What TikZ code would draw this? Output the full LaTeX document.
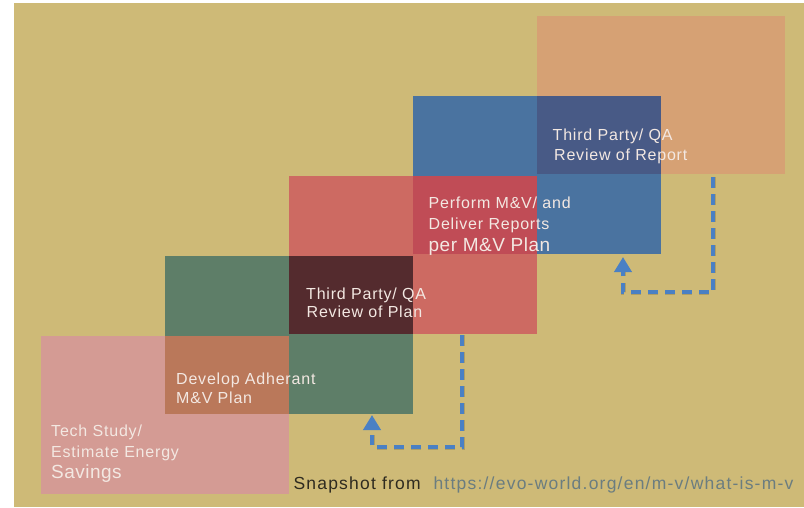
\documentclass[tikz,border=0pt]{standalone}
\usepackage{fontspec}
\setmainfont{Liberation Sans}
\newfontfamily\boxfont[LetterSpace=5]{Liberation Sans}
\newfontfamily\bigfont[LetterSpace=2.5]{Liberation Sans}
\newfontfamily\snapfont[LetterSpace=7]{Liberation Sans}
\usetikzlibrary{arrows.meta}
\definecolor{bgtan}{HTML}{CEBA77}
\definecolor{cpink}{HTML}{D49B94}
\definecolor{cpg}{HTML}{BA785A}
\definecolor{cgreen}{HTML}{5E7E68}
\definecolor{cgr}{HTML}{542B2E}
\definecolor{cred}{HTML}{CD6A62}
\definecolor{crb}{HTML}{C04C56}
\definecolor{cblue}{HTML}{4A73A0}
\definecolor{cbo}{HTML}{485A86}
\definecolor{corange}{HTML}{D6A174}
\definecolor{carrow}{HTML}{4A80C4}
\definecolor{ctext}{HTML}{F3E8E2}
\definecolor{csnap}{HTML}{2E2B20}
\definecolor{curl}{HTML}{6B7D80}
\tikzset{
  stepbox/.style={minimum width=248pt, minimum height=158pt, inner sep=0pt, draw=none},
  lbl/.style={anchor=base west, inner sep=0pt, text=ctext, font=\boxfont\fontsize{16}{19}\selectfont},
  biglbl/.style={anchor=base west, inner sep=0pt, text=ctext, font=\bigfont\fontsize{19}{22}\selectfont},
  loopline/.style={carrow, line width=4.3pt, dash pattern=on 10.5pt off 6.5pt, line join=miter,
     -{Triangle[width=17pt 0,length=15pt 0]}},
  loopshadow/.style={black, opacity=0.15, line width=5pt, dash pattern=on 10.5pt off 6.5pt}
}
\begin{document}
\begin{tikzpicture}[x=1pt,y=-1pt]
\useasboundingbox (0,0) rectangle (804,507);
\fill[white] (0,0) rectangle (804,507);
\fill[bgtan] (14,3) rectangle (804,507);
% boxes
\node[stepbox, fill=cpink]   (P) at (165,415) {};
\node[stepbox, fill=cgreen]  (G) at (289,335) {};
\node[stepbox, fill=cred]    (R) at (413,255) {};
\node[stepbox, fill=cblue]   (B) at (537,175) {};
\node[stepbox, fill=corange] (O) at (661,95) {};
% overlaps
\fill[cpg] (G.south west) rectangle (P.north east);
\fill[cgr] (R.south west) rectangle (G.north east);
\fill[crb] (B.south west) rectangle (R.north east);
\fill[cbo] (O.south west) rectangle (B.north east);
% labels
\node[lbl] (t1a) at (51,436) {Tech Study/};
\node[lbl] (t1b) at (51,457.3) {Estimate Energy};
\node[biglbl] (t1c) at (51,478) {Savings};
\node[lbl] (t2a) at (176,384) {Develop Adherant};
\node[lbl] (t2b) at (176,403.5) {M\&V Plan};
\node[lbl] (t3a) at (306,299.5) {Third Party/ QA};
\node[lbl] (t3b) at (306.5,317.5) {Review of Plan};
\node[lbl] (t4a) at (428.5,208.5) {Perform M\&V/ and};
\node[lbl] (t4b) at (428.5,229) {Deliver Reports};
\node[biglbl] (t4c) at (428.5,251.5) {per M\&V Plan};
\node[lbl] (t5a) at (552.5,140) {Third Party/ QA};
\node[lbl] (t5b) at (554,160) {Review of Report};
\node[anchor=base west, inner sep=0pt, text=csnap, font=\snapfont\fontsize{17.5}{20}\selectfont] (snap) at (293.3,489.3) {Snapshot from};
\node[anchor=base west, inner sep=0pt, text=curl, font=\snapfont\fontsize{17.5}{20}\selectfont] (url) at (433.3,489.3) {https://evo-world.org/en/m-v/what-is-m-v};
% loop arrows
\coordinate (a1s) at (462,335);
\coordinate (a1c) at (462,447);
\coordinate (a1d) at (372,447);
\coordinate (a1e) at (372,415);
\coordinate (a2s) at (713,177);
\coordinate (a2c) at (713,292);
\coordinate (a2d) at (623,292);
\coordinate (a2e) at (623,257);
\draw[loopshadow, shift={(2pt,-3pt)}] (a1s) -- (a1c) -- (a1d) -- ([yshift=-15pt]a1e);
\draw[loopshadow, shift={(2pt,-3pt)}] (a2s) -- (a2c) -- (a2d) -- ([yshift=-15pt]a2e);
\draw[loopline] (a1s) -- (a1c) -- (a1d) -- (a1e);
\draw[loopline] (a2s) -- (a2c) -- (a2d) -- (a2e);
\end{tikzpicture}
\end{document}
